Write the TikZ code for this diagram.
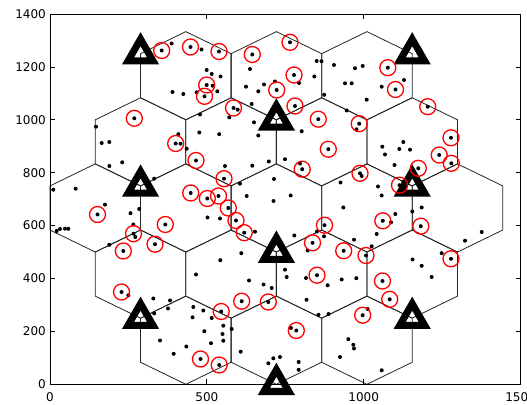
\documentclass[tikz,border=0pt]{standalone}
\usepackage{fontspec}
\setmainfont{DejaVu Sans}
\begin{document}
\begin{tikzpicture}[
  hexa/.style={draw=black!85, line width=0.8pt},
  site/.style={draw=black, line width=7pt, line join=miter, miter limit=10},
  sel/.style={draw=red, line width=1.3pt},
  ticklab/.style={font=\fontsize{12}{14}\selectfont, inner sep=0pt},
  axisline/.style={draw=black, line width=0.8pt}
]
\useasboundingbox (0,0) rectangle (527pt,404pt);
\fill[white] (0,0) rectangle (527pt,404pt);
% ---------- data coordinates ----------
\begin{scope}[shift={(50pt,19.7pt)}, x=0.31367pt, y=0.2645pt]
\def\w{144.3376}
\def\R{166.6667}
\foreach \i/\j in {3/7,5/7,7/7,2/5.5,4/5.5,6/5.5,8/5.5,1/4,3/4,5/4,7/4,9/4,2/2.5,4/2.5,6/2.5,8/2.5,3/1,5/1,7/1}{
  \draw[hexa] ({\i*\w+\w},{\j*\R+\R/2}) -- ++(0,-\R) -- ++(-\w,-\R/2) -- ++(-\w,\R/2) -- ++(0,\R) -- ++(\w,\R/2) -- cycle;
}
\foreach \i/\j in {2/7.5,8/7.5,5/6,2/4.5,8/4.5,5/3,2/1.5,8/1.5,5/0}{
  \draw[site] ({\i*\w},{\j*\R}) ++(0pt,14.5pt) -- ++(12.5pt,-21.7pt) -- ++(-25pt,0pt) -- cycle;
}
\end{scope}
% ---------- pixel coordinates ----------
\begin{scope}[x=1pt, y=-1pt, shift={(0pt,404pt)}]
\foreach \a/\b in {171.7/43.5, 201.5/49.5, 250/69, 206.7/70, 211.7/74, 220.5/76.5, 212.7/85.7, 217.3/91.3, 196.7/92.3, 183.3/94, 172.5/92, 246/86.7, 258.3/91.3, 264/84.5, 275/81.5,
316.7/61, 321.5/61.2, 334/65, 355/68.2, 362.7/66, 404/80, 314.3/76.5, 345/83.3, 351.7/83.3, 381.7/86.7, 366.7/99.7, 324.2/94.8, 299/83,
251.7/104, 237.7/109.7, 229.3/117.3, 254/122.3, 258.3/135.5, 200/114.5, 199.3/132.5, 219.2/134.2,
96/126.7, 101.7/143, 109.3/142, 346.7/110.5, 356.5/129.3, 301.7/131.2,
178.3/134.2, 180.5/143.7, 186.7/148.7,
382.3/146.7, 385/154.5, 399.3/149, 403.3/142, 410/149.7,
109.3/166, 122.2/162.3, 154.2/178.7, 53.3/189.7, 75.7/188.7,
225/166, 252.3/165.7, 268.8/161.5, 285/159.2, 240/183.7, 246.7/196, 273.5/201, 274/179,
300/163.5, 340.5/182.5, 290.7/195.5, 361.7/176, 394.5/165, 378/186.5, 381.7/195.5, 403.3/181.7,
105/204.7, 60/229, 65/228.7, 68.3/228.8, 56.7/231, 130.5/213.2, 139.2/209, 133.3/224.5, 135.3/237, 109.3/244.8,
207.5/217.5, 220/218.5, 255/231.7, 241.3/253.2, 220.3/260.2,
343.3/207.5, 412.3/211.5, 421.7/207.5, 395.3/214, 391/222.3,
376.7/234, 324/236.3, 317/231.5, 294.3/235.5, 307.7/250.5, 354/239.7, 371.7/246.3,
481.7/232, 465/240.7, 441.7/253.2, 412.5/259.5, 421.7/265.8, 431.7/277,
196/274.5, 249/280.5, 263.5/284.5, 271.7/288, 285/269.7, 286.7/277,
306/278, 327.7/285.3, 341.7/279.5, 356.3/278.2, 306.5/299.8, 318.5/314.8, 328.5/314, 367.7/309,
193.3/307, 203.3/310.5, 192.5/317.3, 211.7/318,
153.3/298.5, 170/300.5, 168/308.5, 154.2/313.3, 160/340.5, 173.7/353.8, 186.3/346.5,
204.3/331.2, 223.3/325.7, 231.7/329, 223.3/340.7, 211/343.2, 240.7/351.7, 222.5/334,
268.3/363.3, 280/357, 273.3/358.3,
348.3/339.2, 353.3/344.8, 354/348.5, 340/357, 298.7/362, 298.7/369.8, 381.7/370.3,
291/328, 128.3/295.3}{
  \fill (\a,\b) circle (2pt);
}
\foreach \a/\b in {161.7/50.5, 190.5/47, 219/51.5, 252.3/54.5, 290/42.3, 206.7/85, 204.5/96.3, 233.5/108, 276.7/90, 134.3/118.3,
175.7/143.5, 196/160.5, 224/178.7, 190.7/193, 207.3/198.5, 218.5/196, 228.3/208, 236/220.5, 244.2/232.7, 97.5/214.5,
133.5/233.7, 123.3/251, 155/244.2, 165.3/224.5, 121.5/292, 200.5/359, 219.2/365, 221.2/311.5, 241.7/301.2, 268.3/302,
294/75, 295/106, 318.3/119.2, 359.2/123.7, 328.3/149.2, 302.2/169.2, 360/173.3, 387.8/67.7, 395.5/89.5, 427.7/106.7,
451/137.8, 439.2/155, 451.3/163.3, 418.3/168.3, 399.5/185.2, 324.5/225.2, 312.5/242.8, 343.7/250.8, 366/255.5, 317/275.2,
382.5/281, 389.7/299.3, 362.7/315.2, 296.3/330.5, 382.8/220.8, 420.8/226.2, 451/258.8}{
  \fill (\a,\b) circle (2pt);
  \draw[sel] (\a,\b) circle (8pt);
}
\end{scope}
% ---------- axes ----------
\begin{scope}[shift={(50pt,19.7pt)}, x=0.31367pt, y=0.2645pt]
\draw[axisline] (0,0) rectangle (1500,1400);
\foreach \X in {500,1000}{
  \draw[axisline] (\X,0) -- ++(0,5pt);
  \draw[axisline] (\X,1400) -- ++(0,-5pt);
}
\foreach \Y in {200,400,...,1200}{
  \draw[axisline] (0,\Y) -- ++(5pt,0);
  \draw[axisline] (1500,\Y) -- ++(-5pt,0);
}
\foreach \X in {0,500,1000,1500}{
  \node[ticklab, anchor=north, yshift=-7.7pt] at (\X,0) {\X};
}
\foreach \Y in {0,200,...,1400}{
  \node[ticklab, anchor=east, xshift=-4pt] at (0,\Y) {\Y};
}
\end{scope}
\end{tikzpicture}
\end{document}
